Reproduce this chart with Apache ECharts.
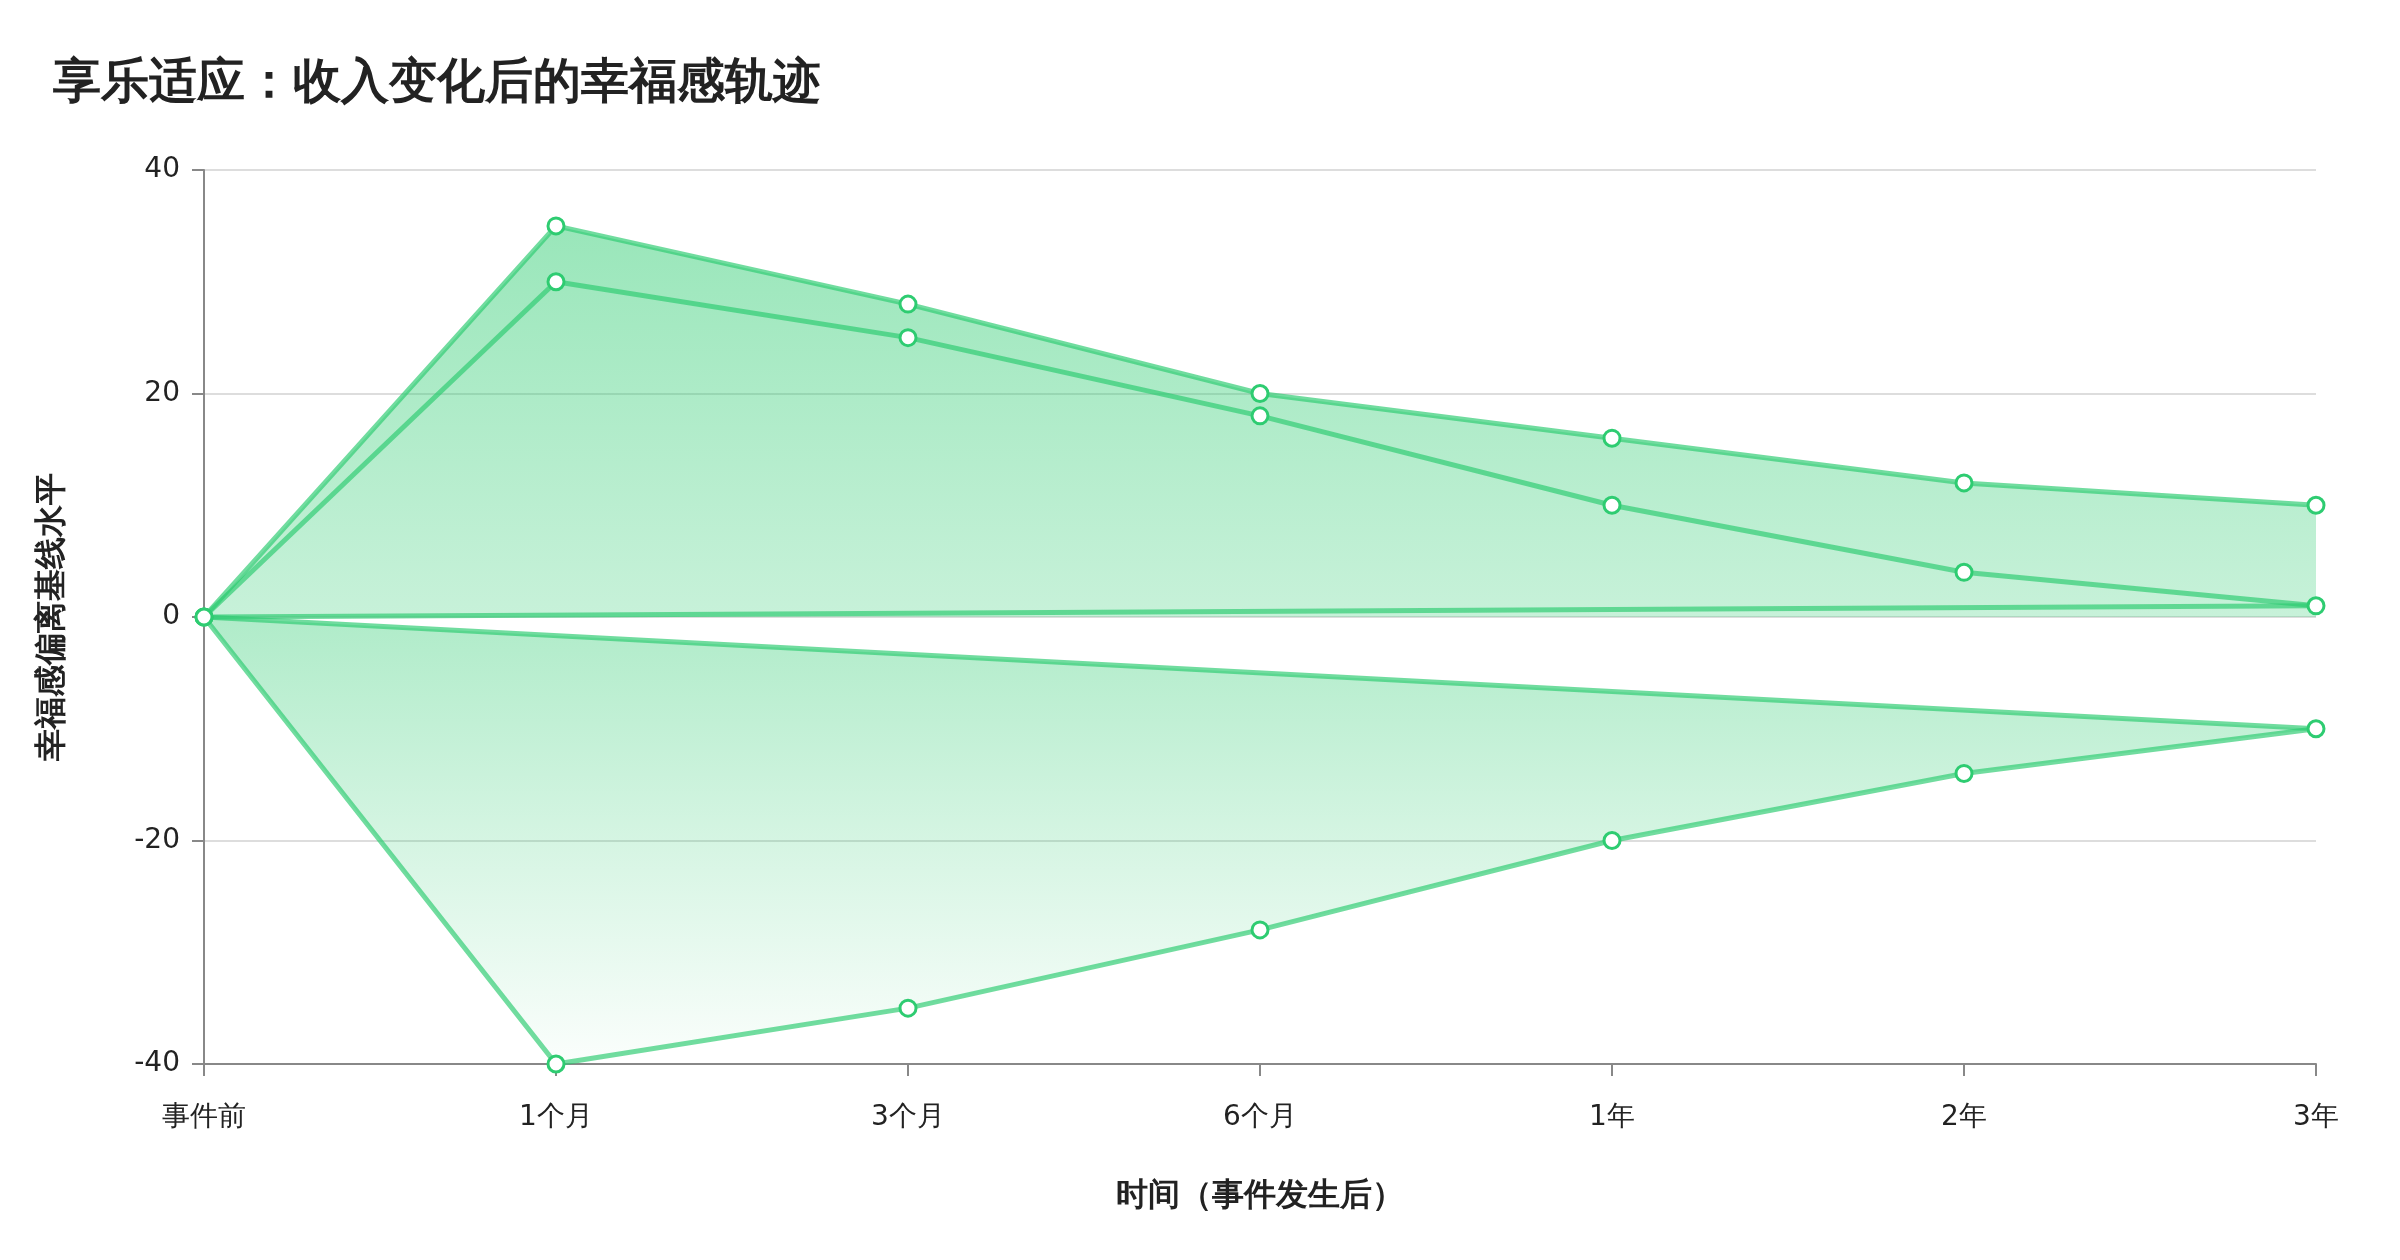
<!DOCTYPE html>
<html>
<head>
<meta charset="utf-8">
<title>享乐适应：收入变化后的幸福感轨迹</title>
<script src="https://cdn.jsdelivr.net/npm/echarts@6/dist/echarts.min.js"></script>
<style>
    html, body { margin: 0; padding: 0; background: #fff; }
    #main { width: 2400px; height: 1260px; }
</style>
</head>
<body>
<div id="main"></div>
<script>
// 时间点（类目轴）
var timePoints = ['事件前', '1个月', '3个月', '6个月', '1年', '2年', '3年'];
// 收入增加：上沿 / 下沿
var gainHigh = [0, 35, 28, 20, 16, 12, 10];
var gainLow = [0, 30, 25, 18, 10, 4, 1];
// 收入减少
var lossCurve = [0, -40, -35, -28, -20, -14, -10];
// y 轴刻度
var yMin = -40;
var yMax = 40;
var yStep = 20;

var GREEN = '#2ecc71';
var lineColor = 'rgba(46,204,113,0.68)';
var TICK_FONT = '"DejaVu Sans", sans-serif';

// one gradient for the whole plot area (grid top 170 -> bottom 1064)
var areaFill = {
    type: 'linear',
    x: 0, y: 170, x2: 0, y2: 1064,
    global: true,
    colorStops: [
        { offset: 0, color: 'rgba(46,204,113,0.74)' },
        { offset: 1, color: 'rgba(46,204,113,0.02)' }
    ]
};

var myChart = echarts.init(document.getElementById('main'));

function lineSeries(name, values) {
    return {
        name: name,
        type: 'line',
        data: values,
        symbol: 'circle',
        symbolSize: 16,
        showSymbol: true,
        lineStyle: { color: lineColor, width: 5 },
        itemStyle: { color: '#fff', borderColor: GREEN, borderWidth: 3 },
        z: 3
    };
}

// straight closing line from first to last point
function chordSeries(values) {
    var last = values.length - 1;
    return {
        type: 'line',
        data: [[0, values[0]], [last, values[last]]],
        symbol: 'none',
        lineStyle: { color: lineColor, width: 5 },
        silent: true,
        z: 2
    };
}

var highArea = lineSeries('收入增加（高）', gainHigh);
highArea.areaStyle = { color: areaFill, origin: 0 };

option = {
    backgroundColor: '#fff',
    animation: false,
    title: {
        text: '享乐适应：收入变化后的幸福感轨迹',
        left: 48,
        top: 55,
        textStyle: { fontSize: 48, fontWeight: 'bold', color: '#222' }
    },
    grid: {
        left: 204,
        right: 84,
        top: 170,
        bottom: 196,
        containLabel: false,
        outerBoundsMode: 'none'
    },
    xAxis: {
        type: 'category',
        data: timePoints,
        boundaryGap: false,
        name: '时间（事件发生后）',
        nameLocation: 'middle',
        nameGap: 116,
        nameMoveOverlap: false,
        nameTextStyle: { fontSize: 32, fontWeight: 'bold', color: '#222' },
        axisLine: { onZero: false, lineStyle: { color: '#888', width: 2 } },
        axisTick: { show: true, length: 12, alignWithLabel: true, lineStyle: { color: '#888', width: 2 } },
        axisLabel: { fontSize: 28, color: '#222', margin: 40, fontFamily: TICK_FONT },
        splitLine: { show: false }
    },
    yAxis: {
        type: 'value',
        min: yMin,
        max: yMax,
        interval: yStep,
        name: '幸福感偏离基线水平',
        nameLocation: 'middle',
        nameGap: 136,
        nameMoveOverlap: false,
        nameTextStyle: { fontSize: 32, fontWeight: 'bold', color: '#222' },
        axisLine: { show: true, lineStyle: { color: '#888', width: 2 } },
        axisTick: { show: true, length: 12, lineStyle: { color: '#888', width: 2 } },
        axisLabel: { fontSize: 28, color: '#222', margin: 24, fontFamily: TICK_FONT },
        splitLine: { show: true, lineStyle: { color: '#ddd', width: 2 } }
    },
    series: [
        {
            // fill between the loss curve and its closing line
            type: 'custom',
            silent: true,
            z: 1,
            data: lossCurve.map(function (v, i) { return [i, v]; }),
            renderItem: function (params, api) {
                if (params.dataIndex !== 0) {
                    return null;
                }
                var pts = lossCurve.map(function (v, i) {
                    return api.coord([i, v]);
                });
                return {
                    type: 'polygon',
                    shape: { points: pts },
                    style: { fill: areaFill }
                };
            }
        },
        chordSeries(gainLow),
        chordSeries(lossCurve),
        highArea,
        lineSeries('收入增加（低）', gainLow),
        lineSeries('收入减少', lossCurve)
    ]
};

myChart.setOption(option);
</script>
</body>
</html>
